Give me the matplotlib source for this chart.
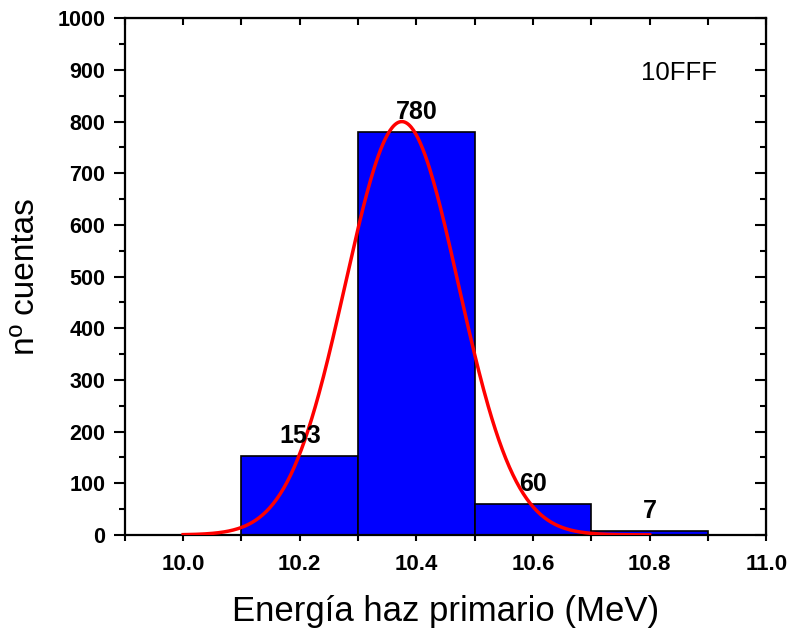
import matplotlib.pyplot as plt
import numpy as np
from matplotlib.ticker import MultipleLocator

plt.rcParams['font.family'] = ['Liberation Sans', 'DejaVu Sans']

# histogram bins (left edges) and counts
bin_left = [10.1, 10.3, 10.5, 10.7]
counts = [153, 780, 60, 7]
bin_width = 0.2

# gaussian fit
fit_amp = 800
fit_center = 10.375
fit_sigma = 0.097
fit_range = (10.0, 10.8)

fig = plt.figure(figsize=(7.9, 6.3), dpi=100)
ax = fig.add_axes([0.158, 0.151, 0.812, 0.820])

ax.bar(bin_left, counts, width=bin_width, align='edge', color='#0000FF',
       edgecolor='black', linewidth=1.2, zorder=2)
for x, c in zip(bin_left, counts):
    ax.text(x + bin_width / 2, c + 16, str(c), ha='center', va='bottom',
            fontsize=18, fontweight='bold', zorder=4)

xf = np.linspace(fit_range[0], fit_range[1], 400)
yf = fit_amp * np.exp(-(xf - fit_center) ** 2 / (2 * fit_sigma ** 2))
ax.plot(xf, yf, color='red', linewidth=2.5, zorder=3)

ax.set_xlim(9.9, 11.0)
ax.set_ylim(0, 1000)
ax.xaxis.set_minor_locator(MultipleLocator(0.1))
ax.yaxis.set_major_locator(MultipleLocator(100))
ax.yaxis.set_minor_locator(MultipleLocator(50))
ax.set_xticks(np.arange(10.0, 11.01, 0.2))
ax.set_xticklabels(['10.0', '10.2', '10.4', '10.6', '10.8', '11.0'])

for s in ax.spines.values():
    s.set_linewidth(1.6)

ax.tick_params(axis='x', which='both', direction='out', length=4, width=1.5,
               labelsize=16, pad=10)
ax.tick_params(axis='y', which='major', direction='out', length=8, width=1.5,
               labelsize=15.5, pad=6)
ax.tick_params(axis='y', which='minor', direction='out', length=4.5, width=1.5)
for lab in ax.get_xticklabels() + ax.get_yticklabels():
    lab.set_fontweight('bold')

# ticks on top and right, pointing inward
axt = ax.secondary_xaxis('top')
axt.set_xticks(np.arange(9.9, 11.01, 0.1))
axt.tick_params(direction='in', length=5, width=1.5, labeltop=False)
axr = ax.secondary_yaxis('right')
axr.yaxis.set_major_locator(MultipleLocator(100))
axr.yaxis.set_minor_locator(MultipleLocator(50))
axr.tick_params(which='major', direction='in', length=8, width=1.5, labelright=False)
axr.tick_params(which='minor', direction='in', length=4.5, width=1.5)

ax.set_xlabel('Energía haz primario (MeV)', fontsize=25, labelpad=14)
ax.set_ylabel('nº cuentas', fontsize=24, labelpad=12)

ax.text(0.923, 0.871, '10FFF', transform=ax.transAxes, ha='right',
        va='bottom', fontsize=18.5)

fig.savefig('out.png', dpi=100)
